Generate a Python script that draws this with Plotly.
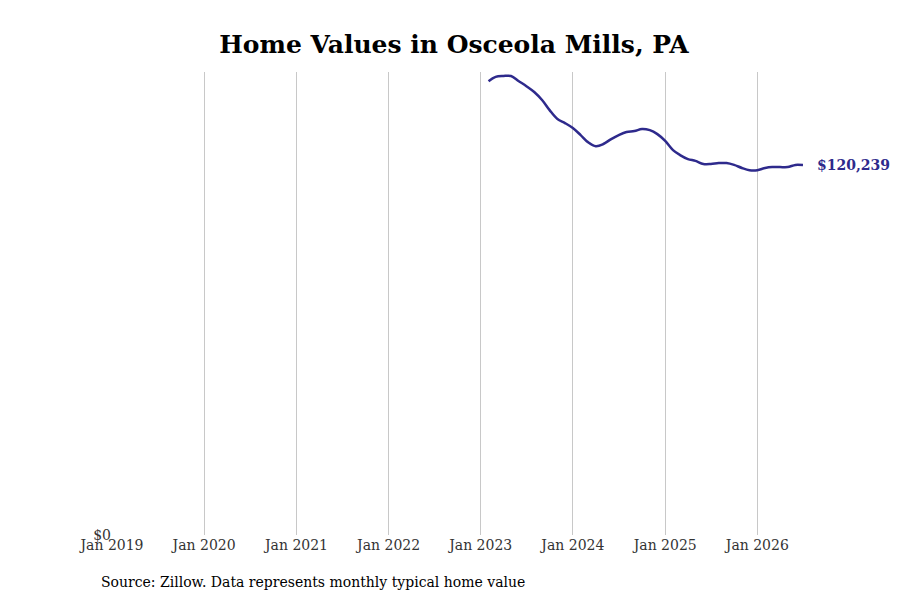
import plotly.graph_objects as go

# monthly typical home value, Feb 2023 - Jul 2026
months = ["2023-02-01", "2023-03-01", "2023-04-01", "2023-05-01", "2023-06-01", "2023-07-01",
          "2023-08-01", "2023-09-01", "2023-10-01", "2023-11-01", "2023-12-01",
          "2024-01-01", "2024-02-01", "2024-03-01", "2024-04-01", "2024-05-01", "2024-06-01",
          "2024-07-01", "2024-08-01", "2024-09-01", "2024-10-01", "2024-11-01", "2024-12-01",
          "2025-01-01", "2025-02-01", "2025-03-01", "2025-04-01", "2025-05-01", "2025-06-01",
          "2025-07-01", "2025-08-01", "2025-09-01", "2025-10-01", "2025-11-01", "2025-12-01",
          "2026-01-01", "2026-02-01", "2026-03-01", "2026-04-01", "2026-05-01", "2026-06-01",
          "2026-07-01"]
values = [147500, 148900, 149200, 149200, 147500, 145900, 144000, 141400, 138100, 135200, 133900,
          132300, 130000, 127700, 126400, 127100, 128700, 130000, 131000, 131300, 132000, 131600,
          130300, 128100, 125100, 123500, 122200, 121600, 120600, 120600, 120900, 120900, 120300,
          119300, 118600, 118600, 119300, 119600, 119600, 119600, 120300, 120239]
tick_vals = ["2019-01-01", "2020-01-01", "2021-01-01", "2022-01-01", "2023-01-01",
             "2024-01-01", "2025-01-01", "2026-01-01"]
tick_text = ["Jan 2019", "Jan 2020", "Jan 2021", "Jan 2022", "Jan 2023",
             "Jan 2024", "Jan 2025", "Jan 2026"]

line_color = "#2e2a8c"
font = "DejaVu Serif"

fig = go.Figure()
fig.add_trace(go.Scatter(x=months, y=values, mode="lines",
                         line=dict(color=line_color, width=2.5, shape="spline"),
                         hoverinfo="skip"))

fig.add_annotation(x=months[-1], y=values[-1], text="<b>$%s</b>" % format(values[-1], ","),
                   showarrow=False, xanchor="left", xshift=12,
                   font=dict(family=font, size=14, color=line_color))
fig.add_annotation(x=0, y=0, xref="paper", yref="paper", xshift=-13, yshift=-47,
                   text="Source: Zillow. Data represents monthly typical home value",
                   showarrow=False, xanchor="left", yanchor="middle",
                   font=dict(family=font, size=14, color="black"))

fig.update_layout(
    width=892, height=592,
    margin=dict(l=104, r=97, t=64, b=65),
    paper_bgcolor="white", plot_bgcolor="white",
    showlegend=False,
    title=dict(text="<b>Home Values in Osceola Mills, PA</b>", x=0.5, y=0.954,
               xanchor="center", font=dict(family=font, size=25, color="black")),
    font=dict(family=font, size=14, color="#333"),
)
fig.update_xaxes(range=["2019-01-01", "2026-07-01"], tickvals=tick_vals, ticktext=tick_text,
                 showgrid=True, gridcolor="#c8c8c8", gridwidth=1, zeroline=False,
                 showline=False, ticks="")
fig.update_yaxes(range=[0, 150500], tickvals=[0], ticktext=["$0"], showgrid=False,
                 zeroline=False, showline=False, ticks="", ticklabelstandoff=0)

fig.write_html("out.html")
